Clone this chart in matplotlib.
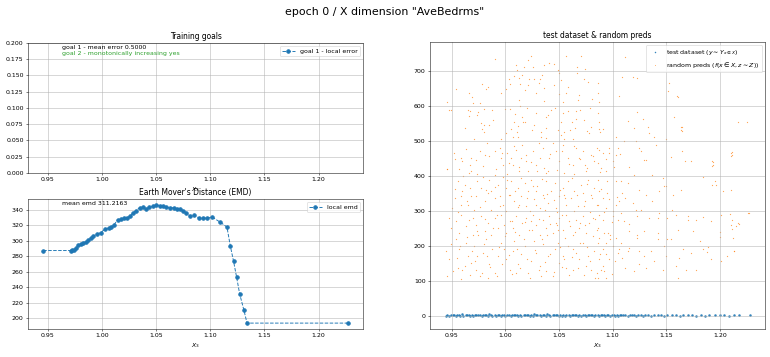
import matplotlib
matplotlib.use("Agg")
import matplotlib.pyplot as plt

# ---------------- data ----------------
suptitle = 'epoch 0 / X dimension "AveBedrms"'
goal1_text = "goal 1 - mean error 0.5000"
goal2_text = "goal 2 - monotonically increasing yes"
emd_text = "mean emd 311.2163"

emd_x = [0.946, 0.9712, 0.9723, 0.9744, 0.9763, 0.9784, 0.9806, 0.9831, 0.9855,
         0.9877, 0.9898, 0.9923, 0.9960, 0.9991, 1.0031, 1.0062, 1.0083, 1.0114,
         1.0145, 1.0176, 1.0206, 1.0231, 1.0262, 1.0286, 1.0317, 1.0348, 1.0379,
         1.0410, 1.0440, 1.0471, 1.0502, 1.0533, 1.0564, 1.0594, 1.0631, 1.0662,
         1.0693, 1.0718, 1.0748, 1.0779, 1.0816, 1.0853, 1.0896, 1.0933, 1.0970,
         1.1019, 1.1093, 1.1155, 1.1186, 1.1216, 1.1243, 1.1272, 1.1310, 1.1340,
         1.2270]
emd_y = [287.4, 287.4, 287.6, 287.6, 290.6, 294.9, 296.2, 297.0, 298.3,
         300.5, 303.5, 306.1, 309.1, 310.4, 315.5, 316.4, 317.7, 320.7,
         327.1, 328.0, 329.3, 329.7, 331.8, 336.1, 339.1, 342.6, 343.4,
         341.3, 343.4, 344.7, 346.4, 345.6, 344.7, 343.4, 342.6, 342.6,
         341.3, 341.3, 339.1, 336.1, 331.8, 332.7, 329.7, 329.7, 329.3,
         330.5, 324.1, 317.7, 293.2, 273.4, 253.7, 231.4, 211.0, 193.6,
         193.6]

# random predictions (x, y)
pred_points = [
    (0.990, 734), (1.0216, 731), (1.010, 717), (1.017, 712), (1.0256, 712), (1.0358, 718),
    (1.041, 723), (1.045, 719), (1.0566, 742), (1.0706, 744), (1.067, 711), (1.074, 705),
    (1.0495, 703), (1.0505, 693), (1.067, 693), (1.016, 689), (1.008, 686), (1.0038, 676),
    (1.013, 679), (1.022, 676), (1.0265, 676), (1.0327, 676), (1.052, 674), (1.0738, 677),
    (1.077, 669), (0.978, 662), (0.982, 649), (0.954, 649), (0.996, 636), (0.966, 636),
    (1.0048, 662), (1.014, 663), (1.021, 661), (1.031, 665), (1.0358, 651), (1.029, 636),
    (1.0188, 646), (1.0007, 650), (1.045, 660), (1.0498, 633), (1.0566, 636), (1.069, 631),
    (1.081, 619), (1.013, 617), (1.0365, 615), (1.0535, 611), (1.0675, 616), (0.969, 625),
    (0.976, 610), (0.9696, 610), (0.946, 612), (0.948, 589), (0.965, 589), (0.967, 586),
    (0.9805, 591), (0.9876, 590), (0.974, 573), (0.966, 571), (1.000, 591), (1.0044, 591),
    (1.020, 595), (1.0094, 577), (1.016, 569), (1.0287, 581), (1.0377, 568), (1.0427, 589),
    (1.0467, 595), (1.0535, 579), (1.058, 586), (1.066, 586), (1.070, 590), (1.073, 560),
    (1.062, 553), (1.052, 555), (1.0085, 553), (1.0162, 553), (1.0188, 553), (0.977, 552),
    (0.980, 545), (0.985, 546), (0.978, 533), (0.9805, 526), (1.0116, 543), (1.0053, 533),
    (1.011, 527), (1.0246, 531), (1.0333, 527), (1.038, 536), (1.049, 531), (1.055, 527),
    (1.060, 531), (1.065, 536), (1.0794, 541), (1.076, 529), (1.078, 522), (0.996, 507),
    (1.007, 511), (1.0116, 512), (1.033, 511), (1.038, 509), (1.055, 506), (1.063, 506),
    (0.971, 505),
    (1.1117, 739), (1.086, 665), (1.086, 636), (1.087, 612), (1.109, 682), (1.119, 684),
    (1.123, 679), (1.106, 629), (1.1527, 667), (1.160, 629), (1.086, 579), (1.087, 555),
    (1.114, 558), (1.1226, 584), (1.128, 563), (1.1326, 541), (1.1575, 568), (1.1646, 539),
    (1.165, 529), (1.2165, 555), (1.087, 533), (1.0906, 533), (1.088, 527), (1.120, 536),
    (1.1036, 512), (1.134, 522), (1.1387, 512), (1.150, 506),
    (1.211, 460), (1.211, 470), (1.194, 441), (1.194, 432), (1.164, 541), (1.164, 532),
    (1.225, 555), (1.152, 643), (1.161, 627), (0.946, 419), (0.949, 589), (0.953, 448),
    (0.959, 451), (0.960, 442), (0.968, 451), (0.967, 432), (0.976, 471), (0.981, 461),
    (0.983, 494), (0.990, 471), (0.995, 480), (0.996, 451), (0.998, 432), (1.002, 466),
    (1.005, 451), (1.007, 432), (1.010, 475), (1.015, 451), (1.016, 490), (1.019, 442),
    (1.021, 413), (1.026, 471), (1.029, 432), (1.032, 451), (1.035, 480), (1.038, 409),
    (1.041, 451), (1.044, 494), (1.047, 471), (1.050, 442), (1.054, 490), (1.055, 409),
    (1.058, 451), (1.063, 432), (1.066, 480), (1.069, 451), (1.072, 471), (1.075, 413),
    (1.080, 461), (1.083, 442), (0.946, 421), (0.966, 409), (0.974, 406), (0.990, 404),
    (1.002, 406), (1.013, 413), (1.030, 413), (1.040, 413), (1.064, 406), (1.074, 432),
    (1.085, 480),
    (0.953, 337), (0.956, 385), (0.960, 356), (0.962, 375), (0.965, 318), (0.968, 342),
    (0.974, 385), (0.977, 366), (0.981, 328), (0.985, 390), (0.987, 356), (0.990, 337),
    (0.993, 375), (0.995, 314), (0.998, 318), (1.001, 366), (1.004, 347), (1.005, 385),
    (1.008, 328), (1.012, 366), (1.015, 342), (1.018, 380), (1.019, 314), (1.021, 356),
    (1.024, 390), (1.027, 333), (1.030, 371), (1.032, 309), (1.035, 347), (1.038, 385),
    (1.040, 323), (1.043, 356), (1.046, 380), (1.047, 309), (1.050, 342), (1.054, 366),
    (1.057, 318), (1.058, 385), (1.061, 337), (1.064, 356), (1.068, 314), (1.071, 375),
    (1.074, 328), (1.077, 390), (1.080, 347), (1.083, 366), (1.085, 318), (0.971, 304),
    (0.959, 318), (0.982, 361), (1.002, 390), (1.013, 318), (1.029, 356), (1.036, 337),
    (1.055, 347), (1.072, 352),
    (0.948, 280), (0.949, 252), (0.954, 271), (0.957, 237), (0.959, 290), (0.963, 256),
    (0.966, 275), (0.970, 233), (0.973, 261), (0.977, 285), (0.981, 242), (0.984, 266),
    (0.987, 233), (0.990, 280), (0.993, 252), (0.996, 290), (1.001, 237), (1.004, 271),
    (1.007, 252), (1.010, 285), (1.013, 233), (1.016, 266), (1.019, 280), (1.022, 247),
    (1.026, 290), (1.029, 261), (1.032, 233), (1.035, 275), (1.038, 252), (1.041, 285),
    (1.044, 237), (1.047, 266), (1.050, 280), (1.054, 247), (1.057, 290), (1.060, 256),
    (1.063, 233), (1.066, 275), (1.069, 252), (1.072, 285), (1.075, 237), (1.078, 266),
    (1.082, 280), (1.085, 247), (0.974, 242), (0.999, 261), (1.024, 271), (1.049, 247),
    (1.074, 261),
    (1.087, 475), (1.091, 466), (1.097, 480), (1.097, 466), (1.105, 480), (1.111, 499),
    (1.122, 499), (1.125, 480), (1.126, 471), (1.140, 488), (1.154, 453), (1.165, 471),
    (1.167, 442), (1.173, 442), (1.193, 442), (1.193, 430), (1.210, 466), (1.210, 456),
    (1.086, 437), (1.089, 423), (1.094, 413), (1.100, 442), (1.103, 461), (1.115, 425),
    (1.129, 447), (1.131, 447), (1.120, 404), (1.137, 404), (1.147, 394), (1.086, 390),
    (1.095, 387), (1.103, 385), (1.108, 385), (1.114, 380), (1.125, 361), (1.131, 347),
    (1.143, 356), (1.148, 371), (1.150, 371), (1.164, 361), (1.184, 396), (1.195, 385),
    (1.196, 375), (1.193, 373), (1.210, 361), (1.203, 356), (1.087, 356), (1.091, 337),
    (1.097, 333), (1.103, 318), (1.109, 352), (1.112, 337), (1.119, 323), (1.137, 328),
    (1.156, 347), (1.086, 318), (1.094, 309), (1.100, 299), (1.106, 328), (1.122, 304),
    (1.126, 304), (1.143, 294), (1.155, 304), (1.159, 288), (1.170, 285), (1.170, 275),
    (1.178, 275), (1.184, 282), (1.192, 271), (1.201, 290), (1.209, 292), (1.227, 294),
    (1.210, 261), (1.215, 256), (1.218, 263), (1.087, 290), (1.091, 275), (1.100, 285),
    (1.105, 275), (1.111, 271), (1.115, 263), (1.123, 285), (1.134, 280), (1.142, 280),
    (1.151, 280), (1.086, 252), (1.092, 237), (1.098, 233), (1.115, 242), (1.123, 233),
    (1.129, 242), (1.142, 237), (1.161, 247), (1.175, 242),
    (0.945, 186), (0.948, 162), (0.946, 114), (0.949, 205), (0.954, 219), (0.957, 191),
    (0.956, 138), (0.960, 133), (0.959, 105), (0.963, 210), (0.965, 171), (0.968, 152),
    (0.971, 200), (0.973, 133), (0.976, 114), (0.979, 181), (0.982, 219), (0.984, 110),
    (0.985, 148), (0.988, 191), (0.990, 124), (0.993, 171), (0.996, 210), (1.001, 162),
    (1.004, 133), (1.007, 186), (1.008, 214), (1.012, 148), (1.015, 176), (1.018, 200),
    (1.021, 124), (1.024, 157), (1.027, 214), (1.029, 181), (1.032, 143), (1.035, 205),
    (1.038, 129), (1.040, 171), (1.044, 114), (1.046, 191), (1.049, 210), (1.050, 152),
    (1.054, 171), (1.057, 138), (1.058, 200), (1.063, 133), (1.066, 181), (1.069, 162),
    (1.072, 210), (1.075, 143), (1.080, 133), (1.083, 186), (1.085, 124), (1.055, 162),
    (0.974, 171), (0.999, 191), (1.010, 124), (1.033, 114), (1.063, 191), (1.077, 171),
    (1.086, 210), (1.087, 224), (1.091, 191), (1.094, 210), (1.098, 219), (1.100, 200),
    (1.094, 176), (1.097, 162), (1.087, 162), (1.089, 133), (1.092, 129), (1.086, 110),
    (1.094, 110), (1.103, 224), (1.108, 210), (1.106, 191), (1.109, 167), (1.114, 186),
    (1.112, 138), (1.115, 195), (1.120, 129), (1.123, 224), (1.125, 186), (1.129, 171),
    (1.131, 138), (1.136, 186), (1.139, 157), (1.142, 219), (1.148, 200), (1.150, 171),
    (1.151, 219), (1.154, 219), (1.159, 143), (1.161, 110), (1.162, 167), (1.166, 191),
    (1.168, 133), (1.173, 181), (1.178, 133), (1.181, 214), (1.184, 191), (1.192, 162),
    (1.201, 157), (1.207, 171), (1.212, 224), (1.213, 186), (1.105, 181), (1.125, 148),
    (1.147, 133), (1.226, 294), (1.217, 265), (1.211, 275), (1.211, 250), (1.200, 241),
    (1.200, 226), (1.188, 184), (1.189, 198), (1.213, 187),
    (0.951, 128), (0.955, 167), (0.958, 201), (0.962, 143), (0.964, 226), (0.967, 118),
    (0.969, 187), (0.972, 158), (0.975, 232), (0.978, 124), (0.980, 206), (0.983, 171),
    (0.986, 139), (0.989, 253), (0.992, 115), (0.994, 197), (0.997, 148), (1.000, 228),
    (1.003, 174), (1.006, 121), (1.009, 239), (1.011, 193), (1.014, 136), (1.017, 221),
    (1.020, 163), (1.023, 109), (1.025, 246), (1.028, 188), (1.031, 131), (1.034, 219),
    (1.037, 155), (1.039, 233), (1.042, 178), (1.045, 126), (1.048, 259), (1.051, 197),
    (1.053, 141), (1.056, 224), (1.059, 118), (1.062, 169), (1.065, 241), (1.068, 136),
    (1.070, 209), (1.073, 117), (1.076, 198), (1.079, 156), (1.082, 229), (1.084, 109),
    (1.088, 176), (1.091, 143), (1.096, 236), (1.099, 121), (1.102, 157),
    (0.950, 308), (0.953, 362), (0.956, 296), (0.959, 344), (0.961, 401), (0.964, 329),
    (0.967, 367), (0.970, 281), (0.973, 343), (0.976, 312), (0.979, 398), (0.981, 276),
    (0.984, 351), (0.987, 302), (0.990, 368), (0.992, 289), (0.995, 342), (0.998, 396),
    (1.001, 301), (1.003, 347), (1.006, 272), (1.009, 358), (1.012, 311), (1.015, 394),
    (1.018, 268), (1.020, 336), (1.023, 299), (1.026, 371), (1.029, 318), (1.031, 277),
    (1.034, 392), (1.037, 303), (1.039, 349), (1.042, 264), (1.045, 331), (1.048, 297),
    (1.051, 361), (1.053, 289), (1.056, 338), (1.059, 272), (1.062, 393), (1.064, 301),
    (1.067, 347), (1.070, 266), (1.073, 314), (1.076, 376), (1.079, 296), (1.081, 338),
    (1.084, 278), (1.089, 364), (1.092, 297), (1.095, 351), (1.099, 268), (1.104, 341),
    (1.108, 294),
    (0.952, 466), (0.957, 421), (0.963, 478), (0.968, 414), (0.973, 447), (0.979, 428),
    (0.985, 456), (0.991, 419), (0.997, 467), (1.003, 436), (1.008, 487), (1.013, 426),
    (1.019, 461), (1.024, 441), (1.031, 494), (1.036, 424), (1.042, 463), (1.048, 417),
    (1.053, 471), (1.059, 433), (1.064, 486), (1.070, 448), (1.076, 424), (1.082, 456),
    (1.088, 412), (1.094, 449), (1.101, 427), (1.107, 462),
    (0.962, 538), (0.975, 583), (0.989, 561), (1.001, 524), (1.014, 601), (1.027, 547),
    (1.040, 575), (1.052, 518), (1.066, 562), (1.079, 594), (0.984, 653), (1.011, 702),
    (1.034, 688), (1.058, 655), (1.024, 744),
]

# test dataset (x, y): targets close to zero on this scale
test_points = [
    (0.945, 1.2), (0.946, 2.8), (0.948, 0.9), (0.949, 3.5), (0.951, 1.8), (0.952, 4.1),
    (0.954, 0.7), (0.955, 2.2), (0.957, 3.1), (0.958, 1.4), (0.960, 4.6), (0.961, 0.6),
    (0.963, 2.5), (0.964, 1.9), (0.966, 3.8), (0.967, 1.1), (0.969, 2.9), (0.970, 0.8),
    (0.972, 4.3), (0.973, 1.6), (0.975, 2.4), (0.976, 3.3), (0.978, 0.9), (0.979, 1.7),
    (0.981, 3.9), (0.982, 2.1), (0.984, 1.3), (0.985, 4.8), (0.987, 2.6), (0.988, 0.7),
    (0.990, 3.0), (0.991, 1.5), (0.993, 2.3), (0.994, 4.0), (0.996, 1.0), (0.997, 2.7),
    (0.999, 3.6), (1.000, 1.2), (1.002, 2.0), (1.003, 4.4), (1.005, 0.8), (1.006, 3.2),
    (1.008, 1.8), (1.009, 2.5), (1.011, 3.7), (1.012, 1.1), (1.014, 2.9), (1.015, 0.6),
    (1.017, 4.2), (1.018, 1.9), (1.020, 2.2), (1.021, 3.4), (1.023, 1.4), (1.024, 2.8),
    (1.026, 0.9), (1.027, 4.7), (1.029, 1.6), (1.030, 3.1), (1.032, 2.4), (1.033, 1.0),
    (1.035, 3.8), (1.036, 2.0), (1.038, 1.3), (1.039, 4.5), (1.041, 2.6), (1.042, 0.8),
    (1.044, 3.3), (1.045, 1.7), (1.047, 2.1), (1.048, 3.9), (1.050, 1.2), (1.051, 2.7),
    (1.053, 0.7), (1.054, 4.1), (1.056, 1.5), (1.057, 3.0), (1.059, 2.3), (1.060, 1.1),
    (1.062, 3.6), (1.063, 1.9), (1.065, 2.5), (1.066, 4.3), (1.068, 0.9), (1.069, 2.8),
    (1.071, 1.4), (1.072, 3.5), (1.074, 2.0), (1.075, 1.0), (1.077, 4.0), (1.078, 1.8),
    (1.080, 2.6), (1.081, 3.2), (1.083, 0.8), (1.084, 2.2), (1.086, 3.7), (1.087, 1.3),
    (1.089, 2.9), (1.090, 1.6), (1.092, 4.4), (1.093, 0.7), (1.095, 2.4), (1.096, 3.4),
    (1.098, 1.2), (1.099, 2.1), (1.101, 3.9), (1.102, 1.5), (1.104, 2.7), (1.105, 0.9),
    (1.107, 3.1), (1.108, 1.9), (1.110, 2.3), (1.112, 4.2), (1.114, 1.1), (1.116, 2.8),
    (1.118, 1.7), (1.120, 3.3), (1.122, 0.8), (1.124, 2.5), (1.126, 3.8), (1.128, 1.4),
    (1.130, 2.0), (1.133, 3.0), (1.136, 1.2), (1.139, 2.6), (1.142, 1.8), (1.145, 3.5),
    (1.148, 1.0), (1.151, 2.2), (1.155, 1.6), (1.159, 2.9), (1.163, 1.3), (1.166, 2.4),
    (1.170, 1.9), (1.174, 3.1), (1.178, 1.5), (1.182, 2.7), (1.186, 1.1), (1.190, 2.0),
    (1.195, 3.4), (1.200, 1.7), (1.204, 2.5), (1.208, 1.2), (1.213, 2.1), (1.218, 1.6),
    (1.228, 2.3),
]

xticks = [0.95, 1.00, 1.05, 1.10, 1.15, 1.20]

# ---------------- figure ----------------
DPI = 45
fig = plt.figure(figsize=(770 / DPI, 357 / DPI), dpi=DPI)
fig.suptitle(suptitle, fontsize=17.5)

ax1 = fig.add_axes([0.0364, 0.5154, 0.4351, 0.3642])
ax2 = fig.add_axes([0.0364, 0.0784, 0.4351, 0.3642])
ax3 = fig.add_axes([0.5584, 0.0784, 0.4351, 0.8040])

# Training goals
ax1.plot([], [], '--o', color='C0', label='goal 1 - local error')
ax1.set_ylim(0, 0.2)
ax1.set_title('Training goals')
ax1.text(0.1, 0.95, goal1_text, transform=ax1.transAxes)
ax1.text(0.1, 0.905, goal2_text, transform=ax1.transAxes, color='C2')
ax1.legend(loc='upper right')
ax1.grid(True)
ax1.set_xlabel('$X_3$')

# EMD
ax2.plot(emd_x, emd_y, '--o', color='C0', label='local emd')
ax2.set_title("Earth Mover's Distance (EMD)")
ax2.text(0.1, 0.95, emd_text, transform=ax2.transAxes)
ax2.legend(loc='upper right')
ax2.grid(True)
ax2.set_xlabel('$X_3$')
ax2.set_xticks(xticks)
ax1.set_xticks(xticks)
ax1.set_xlim(ax2.get_xlim())

# scatter
tx = [p[0] for p in test_points]
ty = [p[1] for p in test_points]
px = [p[0] for p in pred_points]
py = [p[1] for p in pred_points]
ax3.scatter(tx, ty, s=16, color='C0', alpha=0.9, linewidths=0,
            label=r'test dataset ($y \sim Y_{x \in X}$)')
ax3.scatter(px, py, s=4, color='C1', alpha=0.7, linewidths=0,
            label=r'random preds ($f(x \in X, z \sim Z)$)')
ax3.set_xlim(0.9298, 1.242)
ax3.set_ylim(-37, 783)
ax3.set_xticks(xticks)
ax3.set_title('test dataset & random preds')
leg = ax3.legend(loc='upper right', markerscale=0.6)
ax3.grid(True)
ax3.set_xlabel('$X_3$')

fig.savefig('out.png', dpi=DPI)
